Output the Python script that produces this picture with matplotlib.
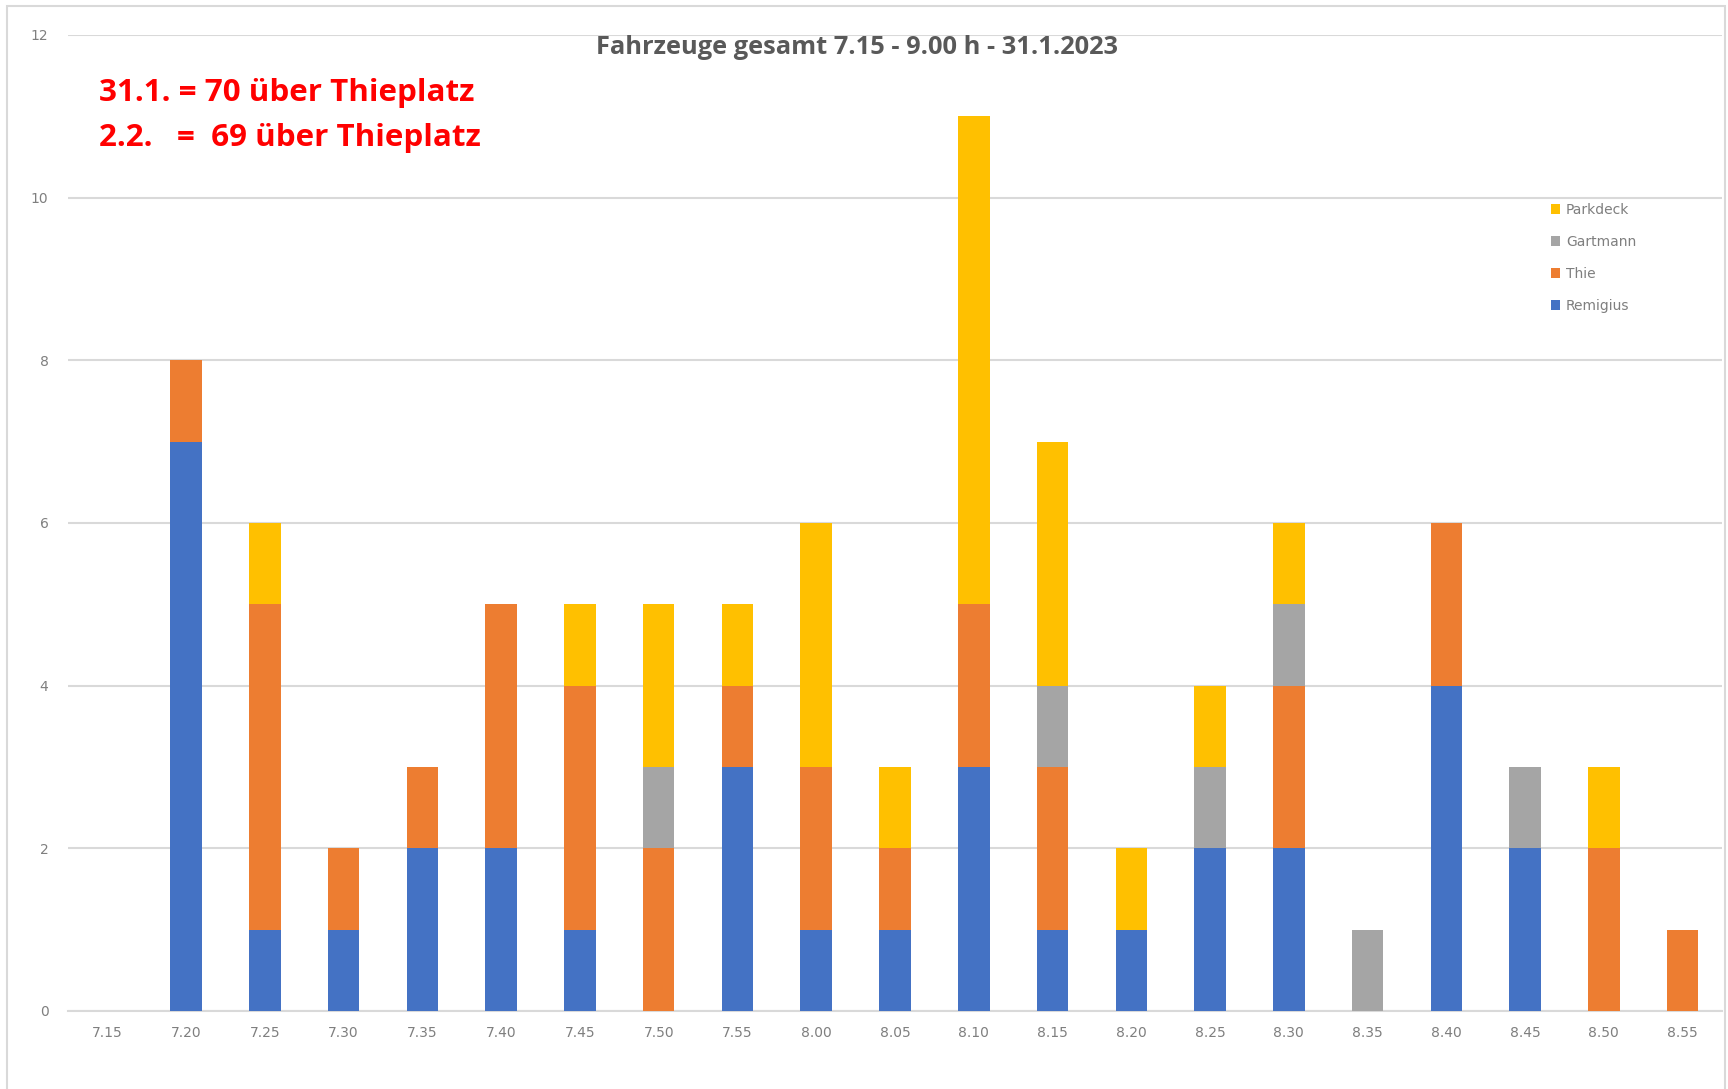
import matplotlib.pyplot as plt
import numpy as np
from matplotlib.patches import Rectangle

# Zeitpunkte (Kategorien)
zeiten = ["7.15", "7.20", "7.25", "7.30", "7.35", "7.40", "7.45", "7.50", "7.55", "8.00",
          "8.05", "8.10", "8.15", "8.20", "8.25", "8.30", "8.35", "8.40", "8.45", "8.50", "8.55"]
# Fahrzeuge je Herkunft
remigius = [0, 7, 1, 1, 2, 2, 1, 0, 3, 1, 1, 3, 1, 1, 2, 2, 0, 4, 2, 0, 0]
thie = [0, 1, 4, 1, 1, 3, 3, 2, 1, 2, 1, 2, 2, 0, 0, 2, 0, 2, 0, 2, 1]
gartmann = [0, 0, 0, 0, 0, 0, 0, 1, 0, 0, 0, 0, 1, 0, 1, 1, 1, 0, 1, 0, 0]
parkdeck = [0, 0, 1, 0, 0, 0, 1, 2, 1, 3, 1, 6, 3, 1, 1, 1, 0, 0, 0, 1, 0]

serien = [("Remigius", remigius, "#4472C4"),
          ("Thie", thie, "#ED7D31"),
          ("Gartmann", gartmann, "#A5A5A5"),
          ("Parkdeck", parkdeck, "#FFC000")]

fig = plt.figure(figsize=(17.28, 10.89), dpi=100)
ax = fig.add_axes([68 / 1728, 1 - 1011 / 1089, (1722 - 68) / 1728, (1011 - 35) / 1089])

x = np.arange(len(zeiten))
unten = np.zeros(len(zeiten))
for name, werte, farbe in serien:
    ax.bar(x, werte, bottom=unten, width=0.4, color=farbe, label=name, zorder=3)
    unten += np.array(werte)

ax.set_xlim(-0.5, len(zeiten) - 0.5)
ax.set_ylim(0, 12)
ax.set_yticks(range(0, 13, 2))
ax.set_xticks(x)
ax.set_xticklabels(zeiten)
ax.tick_params(axis="both", length=0, labelsize=10, labelcolor="#7f7f7f")
ax.tick_params(axis="y", pad=14)
ax.tick_params(axis="x", pad=11)
ax.grid(axis="y", color="#d9d9d9", linewidth=1.5, zorder=0)
for s in ["top", "right", "left"]:
    ax.spines[s].set_visible(False)
ax.spines["bottom"].set_color("#d9d9d9")
ax.spines["bottom"].set_linewidth(1.5)

# Legende oben rechts, umgekehrte Reihenfolge
handles, labels = ax.get_legend_handles_labels()
ax.legend(handles[::-1], labels[::-1], loc="upper left", bbox_to_anchor=(1538 / 1728, 1 - 190 / 1089),
          bbox_transform=fig.transFigure, frameon=False, fontsize=10, labelcolor="#7f7f7f",
          handlelength=0.7, handleheight=0.7, handletextpad=0.4, labelspacing=1.3)

fig.text(857 / 1728, 1 - 47 / 1089, "Fahrzeuge gesamt 7.15 - 9.00 h - 31.1.2023", ha="center", va="center",
         fontsize=18.3, fontweight="bold", color="#595959", family="Open Sans")
fig.text(99 / 1728, 1 - 93 / 1089, "31.1. = 70 über Thieplatz", ha="left", va="center",
         fontsize=22.6, fontweight="bold", color="#ff0000", family="Open Sans")
fig.text(99 / 1728, 1 - 138 / 1089, "2.2.   =  69 über Thieplatz", ha="left", va="center",
         fontsize=22.6, fontweight="bold", color="#ff0000", family="Open Sans")

# Rahmen um das Diagramm
fig.patches.append(Rectangle((7 / 1728, -0.05), (1725 - 7) / 1728, 1.05 - 6 / 1089, transform=fig.transFigure,
                             fill=False, edgecolor="#d9d9d9", linewidth=1.5))

fig.savefig("out.png", dpi=100, facecolor="white")
